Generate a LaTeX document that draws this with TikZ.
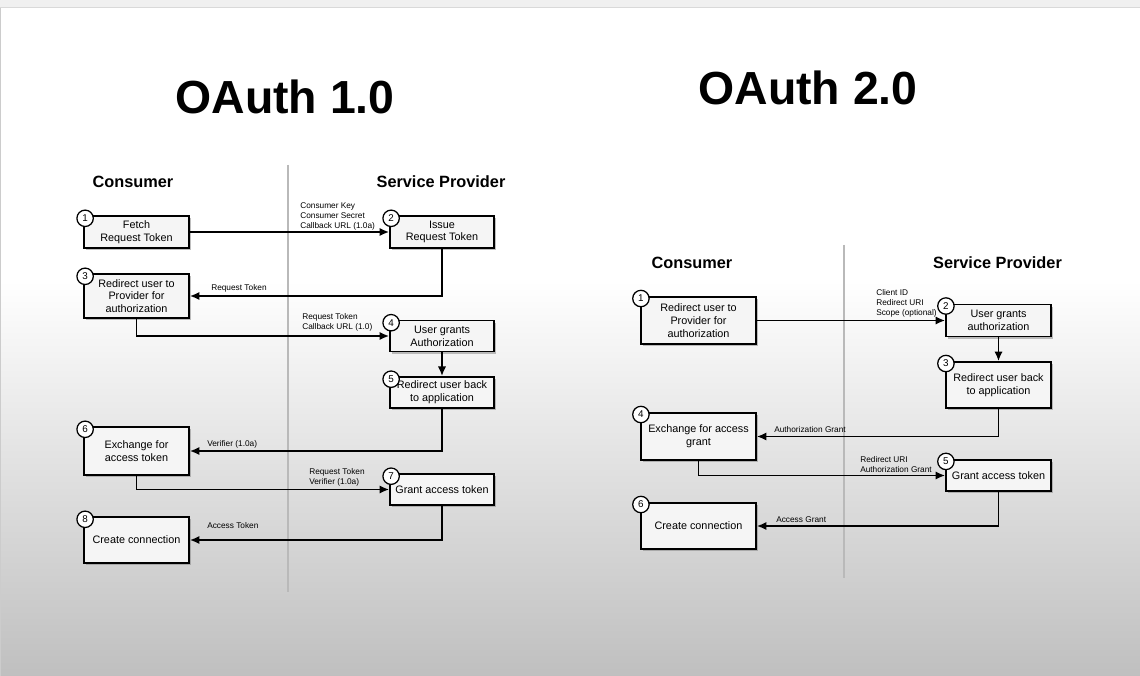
\documentclass[tikz,border=0pt]{standalone}
\usepackage{fontspec}
\setmainfont{Liberation Sans}
\usetikzlibrary{calc,positioning,shadows,arrows.meta}

\begin{document}
\begin{tikzpicture}[x=0.025cm,y=-0.025cm]
\tikzstyle{stage}=[draw, line width=1.25pt, fill=gray!8, align=center, inner sep=1pt, font=\fontsize{7.7}{9.1}\selectfont, drop shadow={shadow xshift=1.3pt, shadow yshift=-1.6pt, opacity=0.5}]
\tikzstyle{num}=[draw, circle, fill=white, line width=0.9pt, inner sep=0pt, minimum size=0.41cm, font=\fontsize{7}{7}\selectfont]
\tikzstyle{msg}=[anchor=south west, inner sep=0pt, align=left, font=\fontsize{5.9}{7.1}\selectfont, execute at end node={\vphantom{(}}]
\tikzstyle{flow}=[line width=1.3pt, -{Latex[length=6.8pt,width=6pt]}]
\tikzstyle{party}=[font=\bfseries\fontsize{11.6}{13}\selectfont]
\tikzstyle{heading}=[font=\bfseries\fontsize{33}{36}\selectfont]
\tikzstyle{divider}=[gray!55, line width=1.2pt]
\pgfmathsetmacro{\lw}{2.625}
\pgfmathsetmacro{\rw}{2.875}

% background
\useasboundingbox (0,0) rectangle (1140,676);
\fill[white] (0,0) rectangle (1140,676);
\shade[top color=white, middle color=black!5, bottom color=black!25] (0,280) rectangle (1140,676);
\fill[black!6] (0,0) rectangle (1140,7);
\draw[black!15] (0,7.5) -- (1140,7.5);
\draw[black!20] (0.5,8) -- (0.5,676);

% OAuth 1.0
\node[heading] (t1) at (285,97) {OAuth 1.0};
\draw[divider] (288,165) -- (288,592);
\node[party] (cons1) at (133,182) {Consumer};
\node[party] (prov1) at (441,182) {Service Provider};

\node[stage, minimum width=\lw cm, minimum height=0.8cm] (fetch) at (136.5,232) {Fetch\\Request Token};
\node[stage, minimum width=2.6cm, minimum height=0.8cm] (issue) at (442,232) {Issue\\Request Token};
\node[stage, minimum width=\lw cm, minimum height=1.1cm] (redir) at (136.5,296) {Redirect user to\\Provider for\\authorization};
\node[stage, minimum width=2.6cm, minimum height=0.78cm] (grants) at (442,336) {User grants\\Authorization};
\node[stage, minimum width=2.6cm, minimum height=0.78cm] (back) at (442,392.5) {Redirect user back\\to application};
\node[stage, minimum width=\lw cm, minimum height=1.2cm] (exch) at (136.5,451) {Exchange for\\access token};
\node[stage, minimum width=2.6cm, minimum height=0.78cm] (grant) at (442,489.5) {Grant access token};
\node[stage, minimum width=\lw cm, minimum height=1.15cm] (conn) at (136.5,540) {Create connection};

\foreach \b/\n in {fetch/1, issue/2, redir/3, grants/4, back/5, exch/6, grant/7, conn/8}
  \node[num] (\b-n) at ([xshift=0.05cm,yshift=-0.08cm]\b.north west) {\n};

\draw[flow] (fetch) -- (issue);
\draw[flow] (issue.south) |- (redir.east);
\draw[flow] (redir.south) |- (grants.west);
\draw[flow] (grants) -- (back);
\draw[flow] (back.south) |- (exch.east);
\draw[flow] (exch.south) |- (grant.west);
\draw[flow] (grant.south) |- (conn.east);

\node[msg] (m1) at (300,230.6) {Consumer Key\\Consumer Secret\\Callback URL (1.0a)};
\node[msg] (m2) at (211,292.6) {Request Token};
\node[msg] (m3) at (302,331.6) {Request Token\\Callback URL (1.0)};
\node[msg] (m4) at (207,448.6) {Verifier (1.0a)};
\node[msg] (m5) at (309,486.6) {Request Token\\Verifier (1.0a)};
\node[msg] (m6) at (207,530.6) {Access Token};

% OAuth 2.0
\node[heading] (t2) at (808,88) {OAuth 2.0};
\draw[divider] (844,245) -- (844,578);
\node[party] (cons2) at (692,263) {Consumer};
\node[party] (prov2) at (997.5,263) {Service Provider};

\node[stage, minimum width=\rw cm, minimum height=1.175cm] (r-redir) at (698.5,320.5) {Redirect user to\\Provider for\\authorization};
\node[stage, minimum width=\lw cm, minimum height=0.8cm] (r-grants) at (998.5,320.5) {User grants\\authorization};
\node[stage, minimum width=\lw cm, minimum height=1.15cm] (r-back) at (998.5,385) {Redirect user back\\to application};
\node[stage, minimum width=\rw cm, minimum height=1.175cm] (r-exch) at (698.5,436.5) {Exchange for access\\grant};
\node[stage, minimum width=\lw cm, minimum height=0.78cm] (r-grant) at (998.5,475.5) {Grant access token};
\node[stage, minimum width=\rw cm, minimum height=1.15cm] (r-conn) at (698.5,526) {Create connection};

\foreach \b/\n in {r-redir/1, r-grants/2, r-back/3, r-exch/4, r-grant/5, r-conn/6}
  \node[num] (\b-n) at ([xshift=0.02cm,yshift=-0.06cm]\b.north west) {\n};

\draw[flow] (r-redir) -- (r-grants);
\draw[flow] (r-grants) -- (r-back);
\draw[flow] (r-back.south) |- (r-exch.east);
\draw[flow] (r-exch.south) |- (r-grant.west);
\draw[flow] (r-grant.south) |- (r-conn.east);

\node[msg] (n1) at (876,317.6) {Client ID\\Redirect URI\\Scope (optional)};
\node[msg] (n2) at (774,434.6) {Authorization Grant};
\node[msg] (n3) at (860,474.6) {Redirect URI\\Authorization Grant};
\node[msg] (n4) at (776,524.6) {Access Grant};
\end{tikzpicture}
\end{document}
